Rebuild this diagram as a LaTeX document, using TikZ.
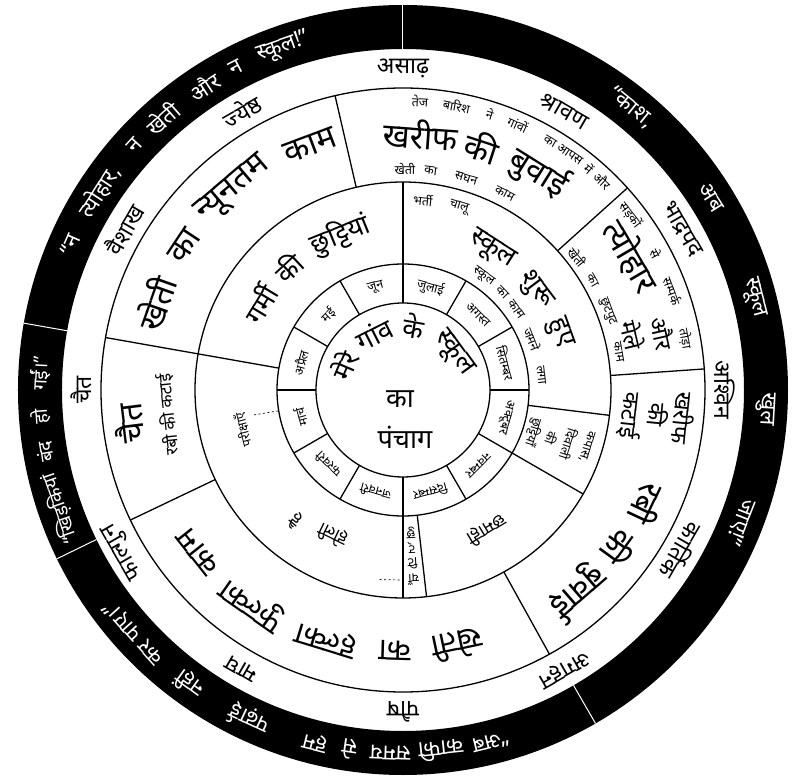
\documentclass[tikz,border=0pt]{standalone}
\usepackage{fontspec}
\newfontfamily\hin[Script=Devanagari]{Noto Sans}
% word placed tangentially on a circle: [style]{radius}{angle}{text}
\newcommand{\atxt}[4][]{\node[#1,rotate=#3-90] at (#3:#2) {#4};}
\tikzset{
  bigtxt/.style={font=\hin\bfseries\fontsize{33}{33}\selectfont,inner sep=0pt},
  midtxt/.style={font=\hin\bfseries\fontsize{27}{27}\selectfont,inner sep=0pt},
  stacktxt/.style={font=\hin\bfseries\fontsize{23}{23}\selectfont,inner sep=0pt},
  lowtxt/.style={font=\hin\bfseries\fontsize{18}{18}\selectfont,inner sep=0pt},
  cntxt/.style={font=\hin\bfseries\fontsize{27}{27}\selectfont,inner sep=0pt},
  montxt/.style={font=\hin\fontsize{23}{23}\selectfont,inner sep=0pt},
  smalltxt/.style={font=\hin\bfseries\fontsize{12.5}{12.5}\selectfont,inner sep=0pt},
  ringtxt/.style={font=\hin\fontsize{12.5}{12.5}\selectfont,inner sep=0pt},
  quotetxt/.style={font=\hin\fontsize{22}{22}\selectfont,text=white,inner sep=0pt},
  leader/.style={line width=0.7pt,dash pattern=on 2pt off 2.5pt}
}
\begin{document}
\begin{tikzpicture}[x=1pt,y=1pt,line width=1.3pt]
\useasboundingbox (-403,-386) rectangle (400,390);
% ---- black quote ring ----
\fill[even odd rule] (0,0) circle (385) (0,0) circle (341);
\foreach \a in {90,170,206,-60}
  \draw[white,line width=1pt] (\a:341) -- (\a:385);
% ---- circles ----
\foreach \r in {302,208,126,87}
  \draw (0,0) circle (\r);
% ---- outer sector dividers ----
\foreach \a in {103,42,4,-61,205.5}
  \draw (\a:208) -- (\a:302);
\draw (170:126) -- (170:302);
% ---- middle ring dividers ----
\foreach \a in {90,-7,-30,-83.5,-90}
  \draw (\a:126) -- (\a:208);
% ---- month ring dividers ----
\foreach \a in {0,30,...,330}
  \draw (\a:87) -- (\a:126);
% ---- dotted leaders ----
\draw[leader] (189.5:151) -- (189.5:127);
\draw[leader] (-97:191) -- (-91:190);
% ---- centre ----
\atxt[cntxt]{64}{157}{मेरे}
\atxt[cntxt]{63}{117}{गांव}
\atxt[cntxt]{65}{80}{के}
\atxt[cntxt]{62}{36}{स्कूल}
\node[cntxt] at (-3,-9) {का};
\node[cntxt] at (2,-47) {पंचाग};
% ---- month ring ----
\atxt[ringtxt]{106}{75}{जुलाई}
\atxt[ringtxt]{106}{45}{अगस्त}
\atxt[ringtxt]{106}{15}{सितम्बर}
\atxt[ringtxt]{106}{-15}{अक्टूबर}
\atxt[ringtxt]{106}{-45}{नवम्बर}
\atxt[ringtxt]{106}{-75}{दिसम्बर}
\atxt[ringtxt]{106}{-105}{जनवरी}
\atxt[ringtxt]{106}{-135}{फरवरी}
\atxt[ringtxt]{106}{-165}{मार्च}
\atxt[ringtxt]{106}{165}{अप्रैल}
\atxt[ringtxt]{106}{135}{मई}
\atxt[ringtxt]{106}{105}{जून}
% ---- middle ring ----
\atxt[midtxt]{167}{149}{गर्मी}
\atxt[midtxt]{168}{133}{की}
\atxt[midtxt]{167}{112}{छुट्टियां}
\atxt[smalltxt]{191}{84}{भर्ती}
\atxt[smalltxt]{191}{73}{चालू}
\atxt[midtxt]{166}{57.6}{स्कूल}
\atxt[midtxt]{166}{37}{शुरू}
\atxt[midtxt]{166}{20}{हुए}
\atxt[smalltxt]{139}{54.7}{स्कूल}
\atxt[smalltxt]{139}{44.4}{का}
\atxt[smalltxt]{139}{35.5}{काम}
\atxt[smalltxt]{139}{21.5}{जमने}
\atxt[smalltxt]{139}{6.2}{लगा}
\atxt[smalltxt]{192}{-17}{कपास,}
\atxt[smalltxt]{174}{-18}{दिवाली}
\atxt[smalltxt]{156}{-18}{की}
\atxt[smalltxt]{137}{-18}{छुट्टियाँ}
\atxt[lowtxt]{163}{-59}{छमाही}
\atxt[smalltxt]{143}{-86.8}{छु}
\atxt[smalltxt]{158}{-86.8}{ट्}
\atxt[smalltxt]{174}{-86.8}{टि}
\atxt[smalltxt]{190}{-86.8}{याँ}
\atxt[smalltxt]{165}{194}{परीक्षाएँ}
\atxt[lowtxt]{161}{-115.8}{होली}
\atxt[lowtxt]{169}{-129.5}{है}
% ---- outer sectors ----
\atxt[bigtxt]{262}{160.6}{खेती}
\atxt[bigtxt]{262}{146.5}{का}
\atxt[bigtxt]{262}{130.2}{न्यूनतम}
\atxt[bigtxt]{262}{110.7}{काम}
\atxt[bigtxt]{256}{86}{खरीफ}
\atxt[bigtxt]{256}{72}{की}
\atxt[bigtxt]{256}{58}{बुवाई}
\atxt[smalltxt]{289}{86.6}{तेज}
\atxt[smalltxt]{289}{79.3}{बारिश}
\atxt[smalltxt]{289}{72.5}{ने}
\atxt[smalltxt]{289}{66.6}{गांवों}
\atxt[smalltxt]{289}{59.4}{का}
\atxt[smalltxt]{289}{54.7}{आपस}
\atxt[smalltxt]{289}{50}{में}
\atxt[smalltxt]{289}{46.4}{और}
\atxt[smalltxt]{221}{89.5}{खेती}
\atxt[smalltxt]{221}{82.8}{का}
\atxt[smalltxt]{221}{73.4}{सघन}
\atxt[smalltxt]{221}{62.6}{काम}
\atxt[bigtxt]{264}{30.4}{त्योहार}
\atxt[stacktxt]{266}{12.3}{और}
\atxt[stacktxt]{236}{13.4}{मेले}
\atxt[smalltxt]{287}{37.6}{सड़कों}
\atxt[smalltxt]{287}{28.4}{से}
\atxt[smalltxt]{287}{20.2}{सम्पर्क}
\atxt[smalltxt]{287}{10.3}{तोड़ा}
\atxt[smalltxt]{219}{37.4}{खेती}
\atxt[smalltxt]{219}{30}{का}
\atxt[smalltxt]{219}{21}{छुटपुट}
\atxt[smalltxt]{219}{10}{काम}
\atxt[stacktxt]{282}{-5.7}{खरीफ}
\atxt[stacktxt]{257}{-5.6}{की}
\atxt[stacktxt]{229}{-6.3}{कटाई}
\atxt[bigtxt]{270}{-25}{रबी}
\atxt[bigtxt]{268}{-36}{की}
\atxt[bigtxt]{267}{-49}{बुवाई}
\atxt[bigtxt,font=\hin\bfseries\fontsize{31}{31}\selectfont]{261}{-78}{खेती}
\atxt[bigtxt,font=\hin\bfseries\fontsize{31}{31}\selectfont]{261}{-91.8}{का}
\atxt[bigtxt,font=\hin\bfseries\fontsize{31}{31}\selectfont]{261}{-107}{हल्का}
\atxt[bigtxt,font=\hin\bfseries\fontsize{31}{31}\selectfont]{261}{-125}{फुल्का}
\atxt[bigtxt,font=\hin\bfseries\fontsize{31}{31}\selectfont]{261}{-141.6}{काम}
\atxt[bigtxt]{276}{187}{चैत}
\atxt[lowtxt,font=\hin\bfseries\fontsize{17}{17}\selectfont]{236}{186}{रबी की कटाई}
% ---- month names ----
\atxt[montxt]{322}{90}{असाढ़}
\atxt[montxt]{322}{60}{श्रावण}
\atxt[montxt]{322}{30}{भाद्रपद}
\atxt[montxt]{322}{0}{अश्विन}
\atxt[montxt]{322}{-30}{कार्तिक}
\atxt[montxt]{322}{-60}{अगहन}
\atxt[montxt]{322}{-90}{पौष}
\atxt[montxt]{322}{-120}{माघ}
\atxt[montxt]{322}{-150}{फाल्गुन}
\atxt[montxt]{322}{180}{चैत}
\atxt[montxt]{322}{150}{वैशाख}
\atxt[montxt]{322}{120}{ज्येष्ठ}
% ---- quotes in the black ring ----
\atxt[quotetxt]{363}{156.4}{“न}
\atxt[quotetxt]{363}{146.8}{त्योहार,}
\atxt[quotetxt]{363}{137.6}{न}
\atxt[quotetxt]{363}{131.5}{खेती}
\atxt[quotetxt]{363}{123.2}{और}
\atxt[quotetxt]{363}{117.5}{न}
\atxt[quotetxt]{363}{109.3}{स्कूल!”}
\atxt[quotetxt]{363}{51}{“काश,}
\atxt[quotetxt]{363}{32}{अब}
\atxt[quotetxt]{363}{14.7}{स्कूल}
\atxt[quotetxt]{363}{-3}{खुल}
\atxt[quotetxt]{363}{-21.4}{जाए!”}
\atxt[quotetxt,font=\hin\fontsize{19}{19}\selectfont]{363}{199}{“खिड़कियां}
\atxt[quotetxt,font=\hin\fontsize{19}{19}\selectfont]{363}{189.8}{बंद}
\atxt[quotetxt,font=\hin\fontsize{19}{19}\selectfont]{363}{184.2}{हो}
\atxt[quotetxt,font=\hin\fontsize{19}{19}\selectfont]{363}{177.4}{गईं।”}
\atxt[quotetxt]{363}{-76}{“अब}
\atxt[quotetxt]{363}{-84}{काफी}
\atxt[quotetxt]{363}{-92}{समय}
\atxt[quotetxt]{363}{-98.5}{से}
\atxt[quotetxt]{363}{-104}{हम}
\atxt[quotetxt]{363}{-115}{पढ़ाई}
\atxt[quotetxt]{363}{-126}{नहीं}
\atxt[quotetxt]{363}{-138}{कर पाए।”}
\end{tikzpicture}
\end{document}
